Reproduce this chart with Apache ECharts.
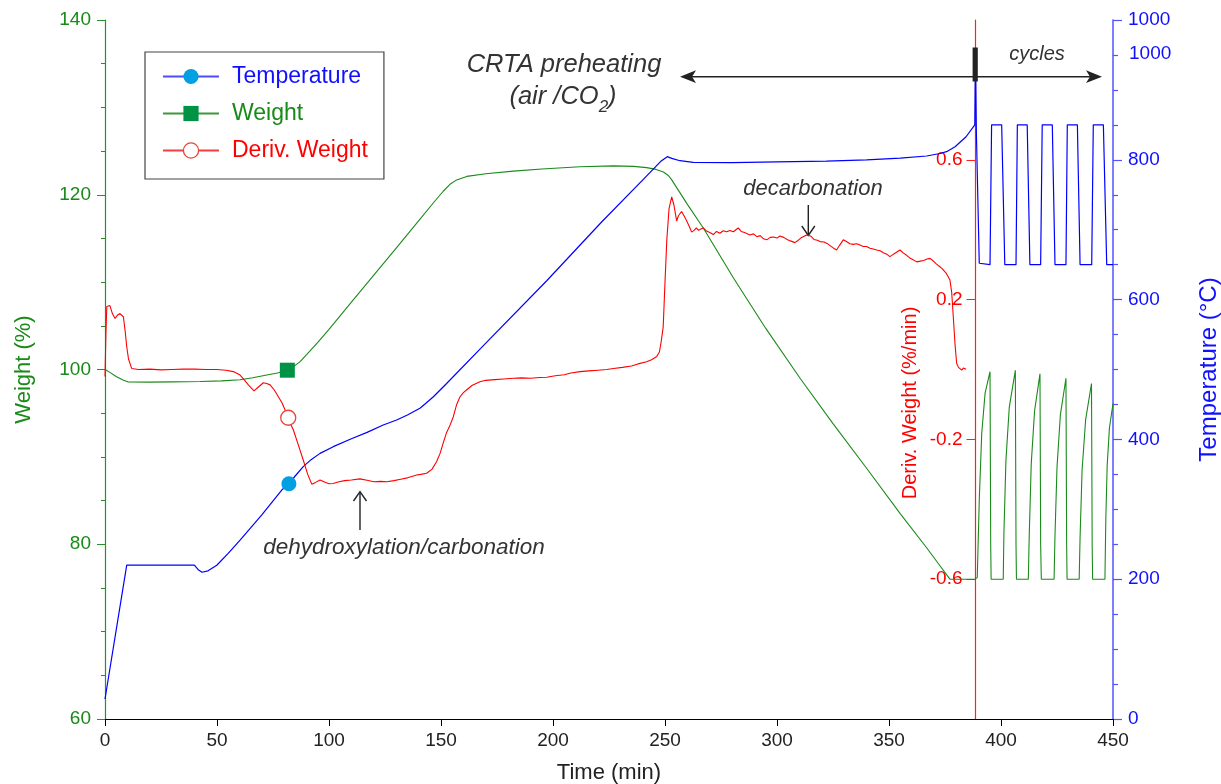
<!DOCTYPE html>
<html>
<head>
<meta charset="utf-8">
<title>CRTA preheating and carbonation cycles</title>
<script src="https://cdn.jsdelivr.net/npm/echarts@6/dist/echarts.min.js"></script>
<style>
  html, body { margin: 0; padding: 0; background: #fff; overflow: hidden; }
  #chart { width: 1221px; height: 784px; }
</style>
</head>
<body>
<div id="chart"></div>
<script>
// Time (min) / value pairs for each recorded signal.
const temperature = [
  [0, 28.6], [9.7, 220], [20, 220], [30, 220], [39.9, 220], [41.5, 214], [43.3, 210], [46, 212], [49.9, 220],
  [55, 237], [60.3, 256], [70, 292], [78.9, 327.6], [82.1, 336.6], [85, 348], [88.5, 361], [92, 371],
  [96, 380], [101.9, 389.6], [110, 401], [117, 410], [124.2, 420.6], [130.2, 427.8], [135, 435],
  [140.6, 444.5], [143, 451], [146.6, 461], [152.5, 480], [170, 537.7], [197.2, 627], [221.7, 711],
  [240, 771], [248, 797.5], [251, 804.5], [253, 802], [256.7, 798.7], [262.6, 796.4], [280, 796],
  [300, 797], [322, 798], [340, 800], [355, 802.5], [366.8, 805.4], [372.8, 809], [375.7, 811.6],
  [379.5, 818.7], [384.4, 833], [388.3, 850], [388.6, 960], [389.0, 840], [390.3, 652],
  [395.1, 650], [395.8, 850], [400.3, 850], [401.7, 650], [406.7, 650], [407.3, 850],
  [411.7, 850], [412.9, 650], [417.7, 650], [418.4, 850], [422.9, 850], [424.1, 650],
  [429.0, 650], [429.6, 850], [434.1, 850], [435.3, 650], [440.5, 650], [441.2, 850],
  [445.7, 850], [447.2, 650], [450, 650]
];

const weight = [
  [0, 100.0], [2, 99.7], [5, 99.2], [8, 98.8], [10.4, 98.57], [20, 98.55], [30, 98.58], [42.4, 98.62],
  [52, 98.7], [60.3, 98.82], [66, 99.05], [72.2, 99.37], [77, 99.6], [81.4, 99.92], [84, 100.3],
  [87.1, 100.9], [90, 101.7], [95, 103.1], [100, 104.6], [110, 107.7], [120, 110.8], [130, 113.9],
  [140, 117.0], [147, 119.2], [151, 120.4], [154, 121.2], [157, 121.7], [161.5, 122.1], [170, 122.4],
  [182.3, 122.7], [195, 122.95], [212, 123.2], [227, 123.3], [236, 123.25], [241.8, 123.1],
  [246, 122.9], [249.3, 122.6], [251.5, 122.2], [253, 121.7], [256, 120.5], [260, 118.9],
  [267.1, 116.2], [280.5, 110.5], [295, 104.7], [310.3, 99.0], [325, 93.8], [340, 88.7],
  [355, 83.5], [366.8, 79.6], [372, 77.8], [377.2, 76.0], [388.5, 76.0],
  [389.4, 76.2], [390.3, 85.1], [391.4, 92.7], [392.9, 97.3], [395.1, 99.75], [395.4, 80], [395.6, 76.0],
  [401.0, 76.0], [401.3, 81.3], [402.2, 89.6], [403.7, 95.7], [406.4, 99.9], [406.7, 80], [406.9, 76.0],
  [412.2, 76.0], [412.6, 81.0], [413.5, 89.2], [415.0, 95.3], [417.4, 99.5], [417.7, 80], [418.0, 76.0],
  [423.7, 76.0], [424.1, 81.0], [425.0, 88.8], [426.5, 94.8], [429.0, 99.0], [429.3, 80], [429.5, 76.0],
  [434.9, 76.0], [435.3, 80.8], [436.2, 88.5], [437.8, 94.3], [440.4, 98.4], [440.7, 80], [440.9, 76.0],
  [446.4, 76.0], [446.8, 83.0], [447.4, 89.0], [448.4, 93.3], [450, 96.1]
];

const derivWeight = [
  [0, -0.02], [0.4, 0.1], [0.8, 0.18], [2.2, 0.183], [3.3, 0.16], [4.5, 0.146], [5.5, 0.155],
  [6.7, 0.16], [7.5, 0.155], [8.2, 0.151], [9.0, 0.11], [9.7, 0.065], [10.5, 0.03], [11.9, 0.003],
  [15, 0.0], [20, 0.001], [25, -0.001], [30, 0.0], [35, 0.001], [40, 0.001], [45, 0.0], [49.9, 0.0],
  [54, -0.002], [57.3, -0.006], [60.3, -0.016], [62, -0.028], [64, -0.044], [66.5, -0.061],
  [68.5, -0.05], [70.7, -0.038], [72.2, -0.04], [73.7, -0.044], [75.5, -0.058], [77.4, -0.078],
  [79, -0.095], [80.4, -0.116], [81.8, -0.138], [83, -0.158], [84.1, -0.173], [86, -0.21],
  [88.5, -0.259], [90.5, -0.3], [92.3, -0.328], [94, -0.323], [96, -0.316], [98, -0.322],
  [100, -0.327], [101.9, -0.326], [104, -0.322], [107, -0.318], [110, -0.316], [113.8, -0.313],
  [117, -0.317], [120, -0.321], [123, -0.32], [125.8, -0.321], [129, -0.318], [132, -0.314],
  [135, -0.31], [137, -0.306], [139.1, -0.302], [141, -0.3], [143.6, -0.297], [146, -0.285],
  [148, -0.264], [149.6, -0.24], [151, -0.21], [152.5, -0.18], [154, -0.16], [155.5, -0.135],
  [157, -0.1], [158.5, -0.078], [160, -0.066], [161.5, -0.058], [164, -0.045], [167.4, -0.035],
  [170, -0.031], [174, -0.029], [178, -0.027], [182.3, -0.025], [186, -0.024], [190, -0.025],
  [194, -0.023], [197.2, -0.022], [201, -0.018], [205, -0.015], [208, -0.01], [212, -0.006],
  [216, -0.004], [220, -0.002], [224, 0.0], [227, 0.003], [231, 0.006], [235, 0.01], [238, 0.016],
  [241.8, 0.022], [244, 0.028], [246.3, 0.037], [247.5, 0.05], [248.3, 0.08], [249.2, 0.122],
  [250, 0.25], [250.8, 0.37], [251.8, 0.46], [253, 0.494], [254, 0.47], [255.2, 0.425], [256, 0.44],
  [257.4, 0.452], [258.5, 0.44], [259.7, 0.425], [260.8, 0.41], [261.9, 0.393], [263, 0.398],
  [264, 0.405], [265, 0.398], [266, 0.402], [267.1, 0.405], [268.5, 0.396], [270, 0.392],
  [271.6, 0.386], [273, 0.395], [274.5, 0.39], [276, 0.397], [277.5, 0.394], [279, 0.398],
  [280.5, 0.394], [282.7, 0.405], [284, 0.395], [285.5, 0.392], [287.9, 0.385], [289.5, 0.388],
  [291, 0.38], [292.5, 0.383], [294, 0.374], [295.4, 0.371], [297, 0.378], [298.5, 0.379],
  [300, 0.376], [301.3, 0.382], [303, 0.378], [304.5, 0.372], [306, 0.368], [308, 0.363],
  [309.5, 0.37], [311, 0.378], [313.2, 0.385], [315, 0.382], [316.5, 0.372], [318, 0.37],
  [319.2, 0.366], [321, 0.365], [322.5, 0.36], [324, 0.353], [325.5, 0.346], [326.6, 0.342],
  [328, 0.356], [329.6, 0.371], [331, 0.366], [332.5, 0.36], [334, 0.358], [335.5, 0.36],
  [337, 0.356], [338.5, 0.352], [340, 0.352], [341.5, 0.347], [343, 0.345], [344.5, 0.342],
  [346, 0.34], [347.5, 0.334], [349, 0.33], [350.4, 0.323], [352, 0.33], [353.5, 0.336],
  [354.9, 0.342], [356.5, 0.333], [358, 0.326], [359.5, 0.318], [361, 0.313], [362.4, 0.308],
  [364, 0.31], [365.5, 0.312], [367, 0.316], [368.3, 0.318], [369.5, 0.312], [371, 0.303],
  [372.3, 0.296], [373.5, 0.29], [375.5, 0.276], [377.2, 0.256], [378, 0.22], [378.7, 0.151],
  [379.5, 0.07], [380.2, 0.018], [381, 0.006], [381.7, 0.003], [382.5, -0.002], [383.2, 0.004],
  [384.4, 0.001]
];

// Single highlighted sample on each curve (shown as the legend symbol).
const tempMarker = [82.1, 336.6];
const weightMarker = [81.4, 99.92];
const derivMarker = [81.8, -0.138];

const FONT = 'Arial, "Liberation Sans", sans-serif';
const C_TEMP = '#0000ff', C_WEIGHT = '#1a8a1a', C_DERIV = '#ff0000', C_NOTE = '#333333';

const chart = echarts.init(document.getElementById('chart'), null, { renderer: 'canvas' });

const noteText = (x, y, text, size, extra) => Object.assign({
  type: 'text', x: x, y: y, silent: true,
  style: { text: text, align: 'center', verticalAlign: 'middle', fill: C_NOTE,
           font: 'italic ' + size + 'px ' + FONT }
}, extra || {});

chart.setOption({
  animation: false,
  backgroundColor: '#ffffff',
  textStyle: { fontFamily: FONT },
  grid: { left: 105, right: 108, top: 20, bottom: 65, containLabel: false, outerBoundsMode: 'none' },
  legend: {
    orient: 'vertical', left: 145, top: 52,
    padding: [13, 16, 17, 17], itemGap: 14, itemWidth: 56, itemHeight: 19,
    borderColor: '#444', borderWidth: 1.2, backgroundColor: '#fff',
    selectedMode: false,
    textStyle: { fontSize: 23, fontFamily: FONT, padding: [0, 0, 0, 8] },
    data: [
      { name: 'Temperature', textStyle: { color: '#1010ff' }, itemStyle: { color: '#00a0e3' }, lineStyle: { color: '#4d4dff' } },
      { name: 'Weight', textStyle: { color: '#178a17' }, itemStyle: { color: '#009245' }, lineStyle: { color: '#3a9a3a' } },
      { name: 'Deriv. Weight', textStyle: { color: '#ff0000' }, itemStyle: { color: '#ffffff', borderColor: '#e8453c', borderWidth: 1.3 }, lineStyle: { color: '#f04040' } }
    ]
  },
  xAxis: {
    type: 'value', min: 0, max: 450, interval: 50,
    name: 'Time (min)', nameLocation: 'middle', nameGap: 43,
    nameTextStyle: { color: '#222', fontSize: 22, fontFamily: FONT },
    axisLine: { onZero: false, lineStyle: { color: '#000', width: 1.2 } },
    axisTick: { length: 7, lineStyle: { color: '#000' } },
    axisLabel: { color: '#222', fontSize: 19, margin: 12, fontFamily: FONT },
    splitLine: { show: false }
  },
  yAxis: [
    {
      type: 'value', min: 60, max: 140, interval: 20, position: 'left',
      name: 'Weight (%)', nameLocation: 'middle', nameGap: 70,
      nameTextStyle: { color: '#178a17', fontSize: 22, fontFamily: FONT },
      axisLine: { show: true, onZero: false, lineStyle: { color: '#2a8f2a', width: 1.2 } },
      axisTick: { length: 8, lineStyle: { color: '#2a8f2a' } },
      minorTick: { show: true, splitNumber: 4, length: 4, lineStyle: { color: '#2a8f2a' } },
      axisLabel: { color: '#178a17', fontSize: 19, margin: 14, fontFamily: FONT },
      splitLine: { show: false }
    },
    {
      type: 'value', min: 0, max: 1000, interval: 200, position: 'right',
      name: 'Temperature (°C)', nameLocation: 'middle', nameGap: 84,
      nameTextStyle: { color: '#1010ff', fontSize: 24, fontFamily: FONT },
      axisLine: { show: true, onZero: false, lineStyle: { color: '#5252ff', width: 1.5 } },
      axisTick: { length: 9, lineStyle: { color: '#5252ff', width: 1.2 } },
      minorTick: { show: true, splitNumber: 4, length: 5, lineStyle: { color: '#5252ff', width: 1.2 } },
      axisLabel: { color: '#1010ff', fontSize: 19, margin: 15, fontFamily: FONT, formatter: v => String(v) },
      splitLine: { show: false }
    },
    {
      type: 'value', min: -1, max: 1, interval: 0.4, position: 'left', offset: -870.5,
      axisLine: { show: true, onZero: false, lineStyle: { color: '#ff2020', width: 1.2 } },
      axisTick: { length: 9, lineStyle: { color: '#ff2020' } },
      axisLabel: {
        color: '#ff0000', fontSize: 19, margin: 13, fontFamily: FONT,
        showMinLabel: false, showMaxLabel: false,
        formatter: v => (Math.abs(v) < 1e-9 ? 0 : v).toFixed(1)
      },
      splitLine: { show: false }
    }
  ],
  series: [
    {
      name: 'Temperature', type: 'line', yAxisIndex: 1, data: temperature,
      color: C_TEMP, symbol: 'circle', showSymbol: false, z: 3,
      lineStyle: { color: C_TEMP, width: 1.2 },
      markPoint: {
        silent: true, symbol: 'circle', symbolSize: 15, label: { show: false },
        itemStyle: { color: '#00a0e3' }, data: [{ coord: tempMarker }]
      }
    },
    {
      name: 'Weight', type: 'line', yAxisIndex: 0, data: weight,
      color: C_WEIGHT, symbol: 'rect', showSymbol: false, z: 2,
      lineStyle: { color: C_WEIGHT, width: 1.1 },
      markPoint: {
        silent: true, symbol: 'rect', symbolSize: 15, label: { show: false },
        itemStyle: { color: '#009245' }, data: [{ coord: weightMarker }]
      }
    },
    {
      name: 'Deriv. Weight', type: 'line', yAxisIndex: 2, data: derivWeight,
      color: C_DERIV, symbol: 'circle', showSymbol: false, z: 4,
      lineStyle: { color: C_DERIV, width: 1.1 },
      markPoint: {
        silent: true, symbol: 'circle', symbolSize: 15, label: { show: false },
        itemStyle: { color: '#ffffff', borderColor: '#e8453c', borderWidth: 1.3 },
        data: [{ coord: derivMarker }]
      }
    }
  ],
  graphic: [
    // stage labels
    noteText(564, 65, 'CRTA preheating', 25.5),
    {
      type: 'text', x: 563, y: 97, silent: true,
      style: {
        text: '{m|(air /CO}{s|2}{m|)}', align: 'center', verticalAlign: 'middle',
        rich: {
          m: { font: 'italic 25.5px ' + FONT, fill: C_NOTE, lineHeight: 38 },
          s: { font: 'italic 17px ' + FONT, fill: C_NOTE, lineHeight: 17, verticalAlign: 'bottom' }
        }
      }
    },
    { type: 'line', silent: true, shape: { x1: 688, y1: 76.7, x2: 1094, y2: 76.7 }, style: { stroke: '#222', lineWidth: 1.4 } },
    { type: 'polygon', silent: true, shape: { points: [[680, 76.7], [696, 70.3], [692, 76.7], [696, 83.1]] }, style: { fill: '#222' } },
    { type: 'polygon', silent: true, shape: { points: [[1102, 76.7], [1086, 70.3], [1090, 76.7], [1086, 83.1]] }, style: { fill: '#222' } },
    { type: 'rect', silent: true, shape: { x: 972.6, y: 47.5, width: 5.2, height: 34 }, style: { fill: '#222' }, z: 100 },
    noteText(1037, 54, 'cycles', 20),
    // process annotations
    noteText(813, 189, 'decarbonation', 22),
    { type: 'line', silent: true, shape: { x1: 808.3, y1: 205, x2: 808.3, y2: 235.5 }, style: { stroke: '#222', lineWidth: 1.4 } },
    { type: 'polyline', silent: true, shape: { points: [[801.8, 226], [808.3, 235.5], [814.8, 226]] }, style: { stroke: '#222', lineWidth: 1.4, fill: null } },
    noteText(404, 548, 'dehydroxylation/carbonation', 22.5),
    { type: 'line', silent: true, shape: { x1: 360, y1: 530, x2: 360, y2: 491.7 }, style: { stroke: '#222', lineWidth: 1.4 } },
    { type: 'polyline', silent: true, shape: { points: [[353.5, 501], [360, 491.7], [366.5, 501]] }, style: { stroke: '#222', lineWidth: 1.4, fill: null } },
    // extra temperature-axis label and the derivative axis title
    {
      type: 'text', x: 1129, y: 54, silent: true,
      style: { text: '1000', align: 'left', verticalAlign: 'middle', fill: '#1010ff', font: '19px ' + FONT }
    },
    {
      type: 'text', x: 910, y: 403, rotation: Math.PI / 2, silent: true,
      style: { text: 'Deriv. Weight (%/min)', align: 'center', verticalAlign: 'middle', fill: '#ff0000', font: '20px ' + FONT }
    }
  ]
});
</script>
</body>
</html>
